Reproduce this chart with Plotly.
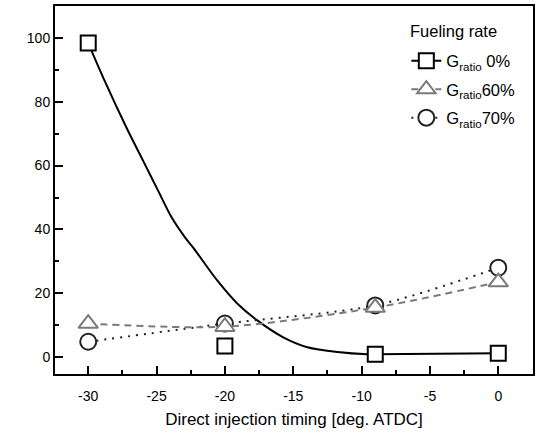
import plotly.graph_objects as go

# Measured points (open markers)
timing = [-30, -20, -9, 0]
g0_pts = [98.4, 3.5, 0.9, 1.2]
g60_pts = [10.5, 9.5, 15.5, 23.5]
g70_pts = [4.8, 10.5, 16.2, 28.0]

# Trend curve drawn through the G_ratio 0% data
g0_curve_x = [-30, -28.77, -27.18, -25.97, -24.87, -23.89, -22.92, -22.32,
              -20.56, -19.10, -17.63, -15.73, -13.97, -11.77, -9.57, -9, 0]
g0_curve_y = [98.4, 86.3, 71.7, 61.4, 52.0, 43.7, 37.5, 34.3,
              24.0, 16.8, 11.5, 6.2, 3.1, 1.6, 0.9, 0.9, 1.2]

legend_title = "Fueling rate"
legend_names = ["G<sub>ratio</sub> 0%", "G<sub>ratio</sub>60%", "G<sub>ratio</sub>70%"]

x_ticks = [-30, -25, -20, -15, -10, -5, 0]
x_ticktext = ["-30", "-25", "-20", "-15", "-10", "-5", "0"]
y_ticks = [0, 20, 40, 60, 80, 100]

BLACK = "#000000"
GRAY = "#7a7a7a"
DARK = "#222222"
FONT = "Liberation Sans, Arial, sans-serif"

fig = go.Figure()

# G_ratio 0%: smooth trend curve + square markers
fig.add_trace(go.Scatter(x=g0_curve_x, y=g0_curve_y, mode="lines",
                         line=dict(color=BLACK, width=2, shape="spline", smoothing=0.8),
                         showlegend=False, hoverinfo="skip"))
fig.add_trace(go.Scatter(x=timing, y=g0_pts, mode="markers",
                         marker=dict(symbol="square", size=15, color="white",
                                     line=dict(width=2, color=BLACK)),
                         showlegend=False))

# G_ratio 70%: dotted + circles
fig.add_trace(go.Scatter(x=timing, y=g70_pts, mode="lines+markers",
                         line=dict(color=DARK, width=2, dash="2px,6px", shape="spline", smoothing=0.8),
                         marker=dict(symbol="circle", size=16, color="white",
                                     line=dict(width=2, color=DARK)),
                         showlegend=False))

# G_ratio 60%: gray dashed + triangles
fig.add_trace(go.Scatter(x=timing, y=g60_pts, mode="lines+markers",
                         line=dict(color=GRAY, width=2, dash="7px,5px", shape="spline", smoothing=0.8),
                         marker=dict(symbol="triangle-up", size=17, color="white",
                                     line=dict(width=2, color=GRAY)),
                         showlegend=False))

# Legend entries
legend_styles = [
    (BLACK, "solid", "square", 15),
    (GRAY, "7px,5px", "triangle-up", 17),
    (DARK, "2px,6px", "circle", 16),
]
for i, (name, (col, dash, sym, sz)) in enumerate(zip(legend_names, legend_styles)):
    fig.add_trace(go.Scatter(x=[None], y=[None], mode="lines+markers", name=name,
                             legendgroup=f"g{i}",
                             line=dict(color=col, width=2, dash=dash),
                             marker=dict(symbol=sym, size=sz, color="white",
                                         line=dict(width=2, color=col))))

axis_common = dict(
    showline=True, linecolor=BLACK, linewidth=2, mirror=True,
    ticks="inside", ticklen=8, tickwidth=1.5, tickcolor=BLACK,
    showgrid=False, zeroline=False,
    tickfont=dict(family=FONT, size=14, color=BLACK),
)

fig.update_xaxes(range=[-32.43, 2.54], tickvals=x_ticks, ticktext=x_ticktext,
                 ticklabelstandoff=8,
                 minor=dict(ticks="inside", ticklen=4, dtick=2.5, tick0=0, tickcolor=BLACK, tickwidth=1.5),
                 title=dict(text="Direct injection timing [deg. ATDC]",
                            font=dict(family=FONT, size=17, color=BLACK),
                            standoff=10),
                 **axis_common)
fig.update_yaxes(range=[-5.3, 110], tickvals=y_ticks,
                 minor=dict(ticks="inside", ticklen=4, dtick=10, tick0=0, tickcolor=BLACK, tickwidth=1.5),
                 **axis_common)

fig.add_annotation(text=legend_title, xref="paper", yref="paper",
                   x=0.738, y=0.933, xanchor="left", yanchor="middle",
                   showarrow=False, font=dict(family=FONT, size=16.5, color=BLACK))

fig.update_layout(
    width=553, height=433,
    margin=dict(l=55, r=20, t=4, b=59),
    paper_bgcolor="white", plot_bgcolor="white",
    font=dict(family=FONT, color=BLACK),
    legend=dict(x=0.735, y=0.898, xanchor="left", yanchor="top",
                bgcolor="rgba(0,0,0,0)", tracegroupgap=4,
                font=dict(size=16.5)),
)

fig.write_html("out.html")
